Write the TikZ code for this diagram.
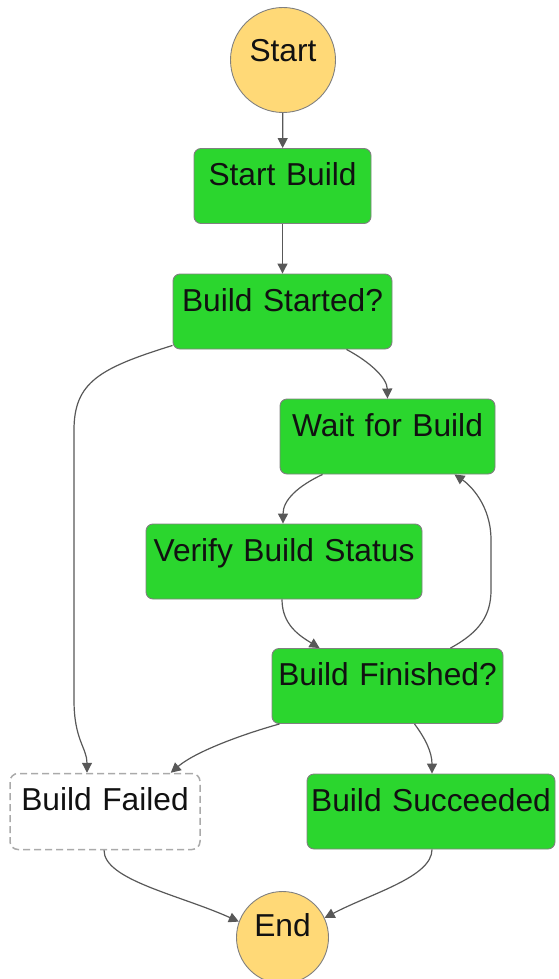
\documentclass[tikz,border=0pt]{standalone}
\usepackage{fontspec}
\setmainfont{Liberation Sans}
\usetikzlibrary{arrows.meta,calc}
\definecolor{stgreen}{RGB}{43,214,46}
\definecolor{styellow}{RGB}{255,217,119}
\definecolor{stborder}{RGB}{128,128,128}
\definecolor{stedge}{RGB}{88,88,88}
\definecolor{stdash}{RGB}{170,170,170}
\definecolor{sttext}{RGB}{17,17,17}
\begin{document}
\begin{tikzpicture}[x=1pt,y=-1pt,
  lbl/.style={font=\fontsize{31.7}{38}\selectfont, text=sttext},
  state/.style={lbl, draw=stborder, line width=0.9pt, fill=stgreen,
    rounded corners=7pt, inner sep=0pt, text height=37pt, text depth=38pt,
    align=center, text width=#1},
  failstate/.style={lbl, draw=stdash, line width=1.5pt, dash pattern=on 7pt off 4pt,
    fill=white, rounded corners=8pt, inner sep=0pt, text height=37pt, text depth=39pt,
    align=center, text width=#1},
  terminal/.style={lbl, circle, draw=stborder, line width=0.9pt, fill=styellow,
    inner sep=0pt, minimum size=#1},
  edge/.style={draw=stedge, line width=1.2pt,
    -{Triangle[length=10pt,width=10pt]}}
]
\clip (0,0) rectangle (558,979);

\node[terminal=105pt, text height=4pt, text depth=0pt] (start) at (283,60) {Start};
\node[state=177pt] (sb) at (282.5,186) {Start Build};
\node[state=219pt] (bst) at (282.5,311.5) {Build Started?};
\node[state=215pt] (wfb) at (387.5,436.5) {Wait for Build};
\node[state=276pt] (vbs) at (284,561.5) {Verify Build Status};
\node[state=231pt] (bfin) at (387.5,686) {Build Finished?};
\node[failstate=190pt] (bfail) at (105,811.5) {Build Failed};
\node[state=248pt] (bsucc) at (431,811.5) {Build Succeeded};
\node[terminal=92pt, text height=0pt, text depth=3pt] (end) at (282.5,937.5) {End};

% edges
\draw[edge] (start) -- (sb);
\draw[edge] (sb) -- (bst);
\draw[edge] ($(bst.south)+(64,0)$) .. controls (370,362) and (387,378) .. (wfb.north);
\draw[edge] ($(bst.south west)+(0,-4)$) .. controls (100,368) and (74,382) .. (74,430)
  -- (74,700) .. controls (74,740) and (87,748) .. ($(bfail.north)+(-18,0)$);
\draw[edge] ($(wfb.south west)+(43,0)$) .. controls (298,486) and (283,500) .. ($(vbs.north)+(-1,0)$);
\draw[edge] ($(vbs.south)+(-2,0)$) .. controls (282,625) and (300,636) .. ($(bfin.north west)+(48,0)$);
\draw[edge] ($(bfin.north east)+(-53,0)$) .. controls (480,632) and (491,615) .. (491,590)
  -- (491,540) .. controls (491,505) and (470,485) .. ($(wfb.south east)+(-41,0)$);
\draw[edge] ($(bfin.south west)+(8,0)$) .. controls (240,735) and (195,752) .. ($(bfail.north east)+(-30,0)$);
\draw[edge] ($(bfin.south)+(27,0)$) .. controls (425,738) and (432,752) .. ($(bsucc.north)+(1,0)$);
\draw[edge] ($(bfail.south)+(-1,0)$) .. controls (104,880) and (180,895) .. (end.160);
\draw[edge] ($(bsucc.south)+(1,0)$) .. controls (432,877) and (372,893) .. (end.25);
\end{tikzpicture}
\end{document}
